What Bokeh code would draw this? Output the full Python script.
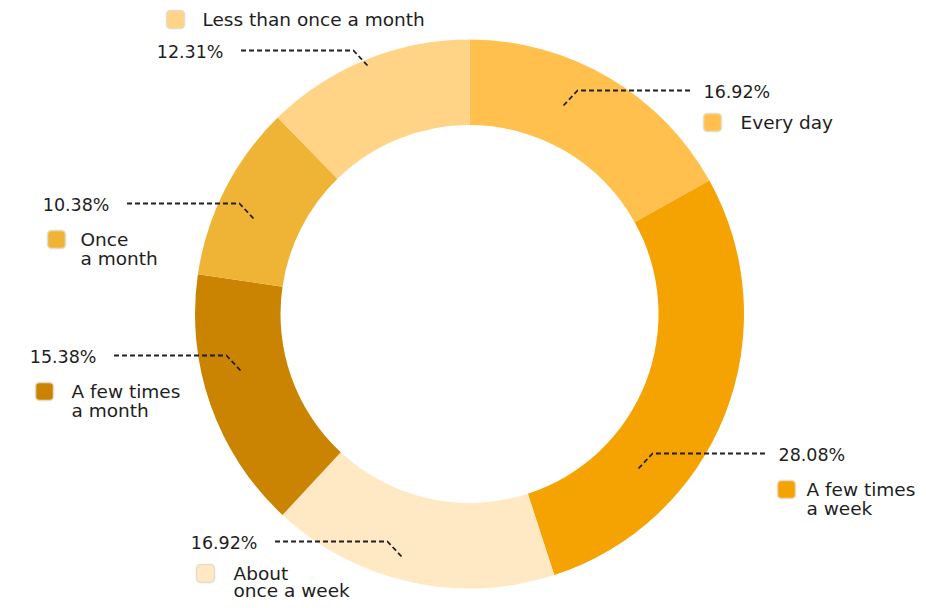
import math
from bokeh.plotting import figure
from bokeh.models import Range1d, ColumnDataSource
from bokeh.core.properties import value
from bokeh.embed import file_html
from bokeh.resources import INLINE

# ---------------- data ----------------
categories = ["Every day", "A few times a week", "About once a week",
              "A few times a month", "Once a month", "Less than once a month"]
shares = [16.92, 28.08, 16.92, 15.38, 10.38, 12.31]
legend_lines = [["Every day"], ["A few times", "a week"], ["About", "once a week"],
                ["A few times", "a month"], ["Once", "a month"], ["Less than once a month"]]
colors = ["#FFC04D", "#F5A302", "#FFE9C4", "#CA8402", "#EFB435", "#FFD486"]

# ---------------- layout (pixels of the picture) ----------------
W, H = 918, 600
FONT = "DejaVu Sans"
FS_PCT = "17.5px"
FS_LEG = "18.5px"
CX, CY = 469, 313.5
R_OUT, R_IN = 274.5, 189
# callout anchors: tick start (x, y), side, legend marker offset from label line,
# legend marker left x, legend text gap, legend line spacing
callouts = [
    dict(tick=(563, 105), side="right", leg=31, mx=703, gap=37, ls=19),
    dict(tick=(638, 468), side="right", leg=35, mx=777, gap=29, ls=19),
    dict(tick=(401, 556), side="left", leg=31, mx=196, gap=37, ls=17),
    dict(tick=(240, 370), side="left", leg=35, mx=35, gap=36, ls=19),
    dict(tick=(253, 218), side="left", leg=35, mx=47, gap=33, ls=19),
    dict(tick=(367, 65), side="left", leg=-32, mx=166, gap=36, ls=19),
]


def Y(sy):
    return H - sy


p = figure(width=W, height=H, output_backend="svg", toolbar_location=None,
           x_range=Range1d(0, W), y_range=Range1d(0, H),
           min_border=0, min_border_left=0, min_border_right=0,
           min_border_top=0, min_border_bottom=0)
p.axis.visible = False
p.grid.visible = False
p.outline_line_color = None
p.background_fill_color = "white"
p.border_fill_color = "white"

total = sum(shares)
starts, ends = [], []
cum = 0.0
for v in shares:
    starts.append(math.pi / 2 - 2 * math.pi * cum / total)
    cum += v
    ends.append(math.pi / 2 - 2 * math.pi * cum / total)

src = ColumnDataSource(dict(x=[CX] * len(shares), y=[Y(CY)] * len(shares),
                            start=starts, end=ends, color=colors))
p.annular_wedge(x="x", y="y", inner_radius=R_IN, outer_radius=R_OUT,
                start_angle="start", end_angle="end", direction="clock",
                fill_color="color", line_color=None, source=src)

# callouts
line_xs, line_ys = [], []
pl_x, pl_y, pl_t, pl_align = [], [], [], []
mk_x, mk_y, mk_c = [], [], []
lt_x, lt_y, lt_t = [], [], []
for i, c in enumerate(callouts):
    tx, ty = c["tick"]
    sgn = 1 if c["side"] == "right" else -1
    ex, ey = tx + sgn * 14, ty - 15
    hx = ex + sgn * 115
    line_xs.append([tx, ex, hx])
    line_ys.append([Y(ty), Y(ey), Y(ey)])
    pl_t.append(f"{shares[i]:.2f}%")
    pl_y.append(Y(ey + 1))
    if sgn > 0:
        pl_x.append(hx + 11)
        pl_align.append("left")
    else:
        pl_x.append(hx - 15)
        pl_align.append("right")
    lines = legend_lines[i]
    my = ey + 1 + c["leg"]
    mk_x.append(c["mx"] + 9)
    mk_y.append(Y(my))
    mk_c.append(colors[i])
    for k, ln in enumerate(lines):
        lt_x.append(c["mx"] + c["gap"])
        lt_y.append(Y(my + k * c["ls"]))
        lt_t.append(ln)

p.multi_line(xs=line_xs, ys=line_ys, line_color="#202020", line_width=1.8,
             line_dash="5 3")
p.text(x=pl_x, y=pl_y, text=pl_t, text_align=pl_align, text_baseline="middle",
       text_font=value(FONT), text_font_size=FS_PCT, text_color="#1e1e1e")
p.rect(x=mk_x, y=mk_y, width=18, height=18, fill_color=mk_c,
       line_color="#E6DCC8", line_width=1.5, border_radius=4)
p.text(x=lt_x, y=lt_y, text=lt_t, text_align="left", text_baseline="middle",
       text_font=value(FONT), text_font_size=FS_LEG, text_color="#1e1e1e")

open("out.html", "w").write(file_html(p, INLINE))
